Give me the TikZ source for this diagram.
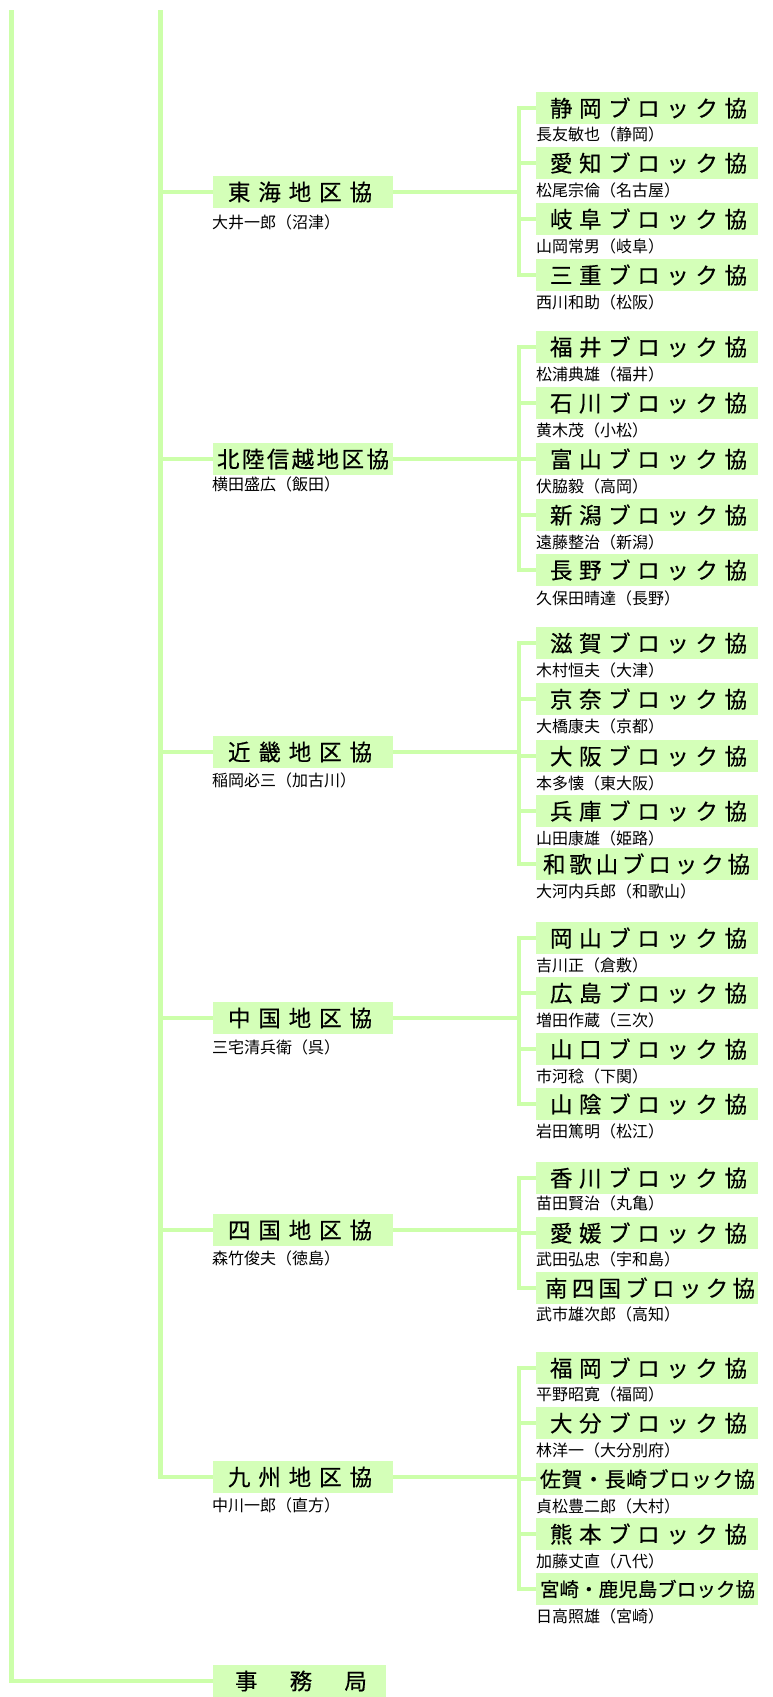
\documentclass[tikz,border=0pt]{standalone}
\usepackage{fontspec}
\newfontfamily\jp{Noto Sans CJK JP}
\newfontfamily\jpb[FakeBold=0.4]{Noto Sans CJK JP}
\definecolor{boxg}{RGB}{212,255,184}
\definecolor{lineg}{RGB}{204,255,170}
\newcommand\mtxt[3]{\makebox[180pt][l]{\hspace*{#1pt}\makebox[#2pt][s]{#3}}}
\newcommand\btxt[3]{\makebox[222pt][l]{\hspace*{#1pt}\makebox[#2pt][s]{#3}}}
\newcommand\sev[2]{#1\hfill #2\hfill ブ\hfill ロ\hfill ッ\hfill ク\hfill 協}
\begin{document}
\begin{tikzpicture}[x=1pt,y=-1pt,
 conn/.style={draw=lineg,line width=4.2pt},
 mainbox/.style={fill=boxg,minimum width=180pt,minimum height=32pt,inner sep=0pt,font=\jpb\fontsize{22.5pt}{23pt}\selectfont},
 blockbox/.style={fill=boxg,minimum width=222pt,minimum height=32pt,inner sep=0pt,font=\jpb\fontsize{22.5pt}{23pt}\selectfont},
 pname/.style={inner sep=0pt,anchor=west,font=\jp\fontsize{16pt}{17pt}\selectfont}]
\useasboundingbox (0,0) rectangle (773,1697);

% ---------- main boxes ----------
\node[mainbox] (tokai) at (303,192) {\mtxt{15}{144}{東\hfill 海\hfill 地\hfill 区\hfill 協}};
\node[pname] (tokain) at (212,222) {大井一郎（沼津）};
\node[mainbox] (hokuriku) at (303,459) {\mtxt{4}{172}{北\hfill 陸\hfill 信\hfill 越\hfill 地\hfill 区\hfill 協}};
\node[pname] (hokurikun) at (212,484) {横田盛広（飯田）};
\node[mainbox] (kinki) at (303,752) {\mtxt{15}{144}{近\hfill 畿\hfill 地\hfill 区\hfill 協}};
\node[pname] (kinkin) at (212,780) {稲岡必三（加古川）};
\node[mainbox] (chugoku) at (303,1018) {\mtxt{15}{144}{中\hfill 国\hfill 地\hfill 区\hfill 協}};
\node[pname] (chugokun) at (212,1047) {三宅清兵衛（呉）};
\node[mainbox] (shikoku) at (303,1230) {\mtxt{15}{144}{四\hfill 国\hfill 地\hfill 区\hfill 協}};
\node[pname] (shikokun) at (212,1258) {森竹俊夫（徳島）};
\node[mainbox] (kyushu) at (303,1477) {\mtxt{15}{144}{九\hfill 州\hfill 地\hfill 区\hfill 協}};
\node[pname] (kyushun) at (212,1505) {中川一郎（直方）};
\node[mainbox,minimum width=173pt] (jimu) at (299.5,1681) {\makebox[173pt][l]{\hspace*{22pt}\makebox[132pt][s]{事\hfill 務\hfill 局}}};

% ---------- block boxes ----------
% Tokai
\node[blockbox] (t1) at (647,108) {\btxt{14}{197}{\sev{静}{岡}}};
\node[pname] (t1n) at (536,134) {長友敏也（静岡）};
\node[blockbox] (t2) at (647,163) {\btxt{14}{197}{\sev{愛}{知}}};
\node[pname] (t2n) at (536,190) {松尾宗倫（名古屋）};
\node[blockbox] (t3) at (647,219) {\btxt{14}{197}{\sev{岐}{阜}}};
\node[pname] (t3n) at (536,246) {山岡常男（岐阜）};
\node[blockbox] (t4) at (647,275) {\btxt{14}{197}{\sev{三}{重}}};
\node[pname] (t4n) at (536,302) {西川和助（松阪）};
% Hokuriku
\node[blockbox] (h1) at (647,347) {\btxt{14}{197}{\sev{福}{井}}};
\node[pname] (h1n) at (536,374) {松浦典雄（福井）};
\node[blockbox] (h2) at (647,403) {\btxt{14}{197}{\sev{石}{川}}};
\node[pname] (h2n) at (536,430) {黄木茂（小松）};
\node[blockbox] (h3) at (647,459) {\btxt{14}{197}{\sev{富}{山}}};
\node[pname] (h3n) at (536,486) {伏脇毅（高岡）};
\node[blockbox] (h4) at (647,515) {\btxt{14}{197}{\sev{新}{潟}}};
\node[pname] (h4n) at (536,542) {遠藤整治（新潟）};
\node[blockbox] (h5) at (647,570) {\btxt{14}{197}{\sev{長}{野}}};
\node[pname] (h5n) at (536,598) {久保田晴達（長野）};
% Kinki
\node[blockbox] (k1) at (647,643) {\btxt{14}{197}{\sev{滋}{賀}}};
\node[pname] (k1n) at (536,670) {木村恒夫（大津）};
\node[blockbox] (k2) at (647,699) {\btxt{14}{197}{\sev{京}{奈}}};
\node[pname] (k2n) at (536,726) {大橋康夫（京都）};
\node[blockbox] (k3) at (647,756) {\btxt{14}{197}{\sev{大}{阪}}};
\node[pname] (k3n) at (536,783) {本多懐（東大阪）};
\node[blockbox] (k4) at (647,811) {\btxt{14}{197}{\sev{兵}{庫}}};
\node[pname] (k4n) at (536,838) {山田康雄（姫路）};
\node[blockbox] (k5) at (647,864) {\btxt{7}{207}{和\hfill 歌\hfill 山\hfill ブ\hfill ロ\hfill ッ\hfill ク\hfill 協}};
\node[pname] (k5n) at (536,891) {大河内兵郎（和歌山）};
% Chugoku
\node[blockbox] (c1) at (647,938) {\btxt{14}{197}{\sev{岡}{山}}};
\node[pname] (c1n) at (536,965) {吉川正（倉敷）};
\node[blockbox] (c2) at (647,993) {\btxt{14}{197}{\sev{広}{島}}};
\node[pname] (c2n) at (536,1020) {増田作蔵（三次）};
\node[blockbox] (c3) at (647,1049) {\btxt{14}{197}{\sev{山}{口}}};
\node[pname] (c3n) at (536,1076) {市河稔（下関）};
\node[blockbox] (c4) at (647,1104) {\btxt{14}{197}{\sev{山}{陰}}};
\node[pname] (c4n) at (536,1131) {岩田篤明（松江）};
% Shikoku
\node[blockbox] (s1) at (647,1178) {\btxt{14}{197}{\sev{香}{川}}};
\node[pname] (s1n) at (536,1203) {苗田賢治（丸亀）};
\node[blockbox] (s2) at (647,1233) {\btxt{14}{197}{\sev{愛}{媛}}};
\node[pname] (s2n) at (536,1259) {武田弘忠（宇和島）};
\node[blockbox] (s3) at (647,1288) {\btxt{9}{210}{南\hfill 四\hfill 国\hfill ブ\hfill ロ\hfill ッ\hfill ク\hfill 協}};
\node[pname] (s3n) at (536,1314) {武市雄次郎（高知）};
% Kyushu
\node[blockbox] (q1) at (647,1368) {\btxt{14}{197}{\sev{福}{岡}}};
\node[pname] (q1n) at (536,1394) {平野昭寛（福岡）};
\node[blockbox] (q2) at (647,1423) {\btxt{14}{197}{\sev{大}{分}}};
\node[pname] (q2n) at (536,1450) {林洋一（大分別府）};
\node[blockbox] (q3) at (647,1479) {\btxt{4}{215}{\fontsize{21pt}{21pt}\selectfont 佐\hfill 賀\hfill ・\hfill 長\hfill 崎\hfill ブ\hfill ロ\hfill ッ\hfill ク\hfill 協}};
\node[pname] (q3n) at (536,1506) {貞松豊二郎（大村）};
\node[blockbox] (q4) at (647,1534) {\btxt{14}{197}{\sev{熊}{本}}};
\node[pname] (q4n) at (536,1561) {加藤丈直（八代）};
\node[blockbox] (q5) at (647,1589) {\btxt{4}{215}{\fontsize{19.5pt}{20pt}\selectfont 宮\hfill 崎\hfill ・\hfill 鹿\hfill 児\hfill 島\hfill ブ\hfill ロ\hfill ッ\hfill ク\hfill 協}};
\node[pname] (q5n) at (536,1616) {日高照雄（宮崎）};

% ---------- connectors ----------
\coordinate (topA) at (11.5,10);
\coordinate (topB) at (160.5,10);
\coordinate (colR) at (519,0);
\draw[conn] (topA) |- (jimu.west);
\draw[conn] (topB) |- (kyushu.west);
\foreach \n in {tokai,hokuriku,kinki,chugoku,shikoku}
  \draw[conn] (\n.west -| topB) -- (\n.west);
\foreach \n in {tokai,hokuriku,kinki,chugoku,shikoku,kyushu}
  \draw[conn] (\n.east) -- (\n.east -| colR);
% group verticals
\draw[conn] (t1.west) -- (t1.west -| colR) -- (t4.west -| colR) -- (t4.west);
\draw[conn] (h1.west) -- (h1.west -| colR) -- (h5.west -| colR) -- (h5.west);
\draw[conn] (k1.west) -- (k1.west -| colR) -- (k5.west -| colR) -- (k5.west);
\draw[conn] (c1.west) -- (c1.west -| colR) -- (c4.west -| colR) -- (c4.west);
\draw[conn] (s1.west) -- (s1.west -| colR) -- (s3.west -| colR) -- (s3.west);
\draw[conn] (q1.west) -- (q1.west -| colR) -- (q5.west -| colR) -- (q5.west);
\foreach \n in {t2,t3,h2,h3,h4,k2,k3,k4,c2,c3,s2,q2,q3,q4}
  \draw[conn] (\n.west) -- (\n.west -| colR);
\end{tikzpicture}
\end{document}
